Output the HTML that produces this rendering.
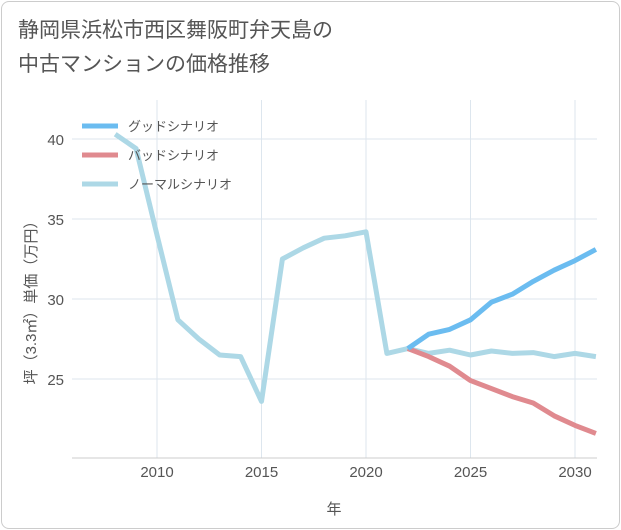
<!DOCTYPE html>
<html><head><meta charset="utf-8"><style>
body{margin:0;background:#fff;}
#wrap{position:relative;width:621px;height:530px;font-family:"Liberation Sans","Noto Sans CJK JP",sans-serif;}
#frame{position:absolute;left:1px;top:1px;width:617px;height:526px;border:1px solid #ccc;border-radius:8px;background:#fff;}
#title{position:absolute;left:18px;top:14px;font-size:21px;line-height:34px;color:#555;}
</style></head><body>
<div id="wrap">
<div id="frame"></div>
<div id="title">静岡県浜松市西区舞阪町弁天島の<br>中古マンションの価格推移</div>
<svg id="svg" width="621" height="530" style="position:absolute;left:0;top:0"></svg>
</div>
<script>
const years=[2008,2009,2010,2011,2012,2013,2014,2015,2016,2017,2018,2019,2020,2021,2022,2023,2024,2025,2026,2027,2028,2029,2030,2031];
const normalValues=[40.3,39.4,34,28.7,27.5,26.5,26.4,23.6,32.5,33.2,33.8,33.95,34.2,26.6,26.9,26.6,26.8,26.5,26.75,26.6,26.65,26.4,26.6,26.4];
const futureYears=[2022,2023,2024,2025,2026,2027,2028,2029,2030,2031];
const goodValues=[26.9,27.8,28.1,28.7,29.8,30.3,31.1,31.8,32.4,33.1];
const badValues=[26.9,26.4,25.8,24.9,24.4,23.9,23.5,22.7,22.1,21.6];
const xTicks=[2010,2015,2020,2025,2030];
const yTicks=[25,30,35,40];
const legendLabels=["グッドシナリオ","バッドシナリオ","ノーマルシナリオ"];
const L=72,R=597,T=100,B=458;
const xs=y=>157+(y-2010)*20.9;
const ys=v=>379-(v-25)*16;
const svg=document.getElementById('svg');const NS='http://www.w3.org/2000/svg';
function mk(t,a,p){const e=document.createElementNS(NS,t);for(const k in a)e.setAttribute(k,a[k]);(p||svg).appendChild(e);return e;}
const defs=mk('defs',{});const cp=mk('clipPath',{id:'c'},defs);mk('rect',{x:L,y:T,width:R-L,height:B-T},cp);
for(const t of xTicks){const g=mk('line',{x1:xs(t),x2:xs(t),y1:T,y2:B,stroke:'#dde6ee','stroke-width':1});

const tx=mk('text',{x:xs(t),y:477,'text-anchor':'middle','font-size':15,fill:'#555'});tx.textContent=t;
}
for(const t of yTicks){const g=mk('line',{x1:L,x2:R,y1:ys(t),y2:ys(t),stroke:'#dde6ee','stroke-width':1});

const tx=mk('text',{x:64,y:ys(t)+6,'text-anchor':'end','font-size':15,fill:'#555'});tx.textContent=t;
}
const ax=mk('line',{x1:L,x2:R,y1:B,y2:B,stroke:'#ccc'});
const xt=mk('text',{x:334,y:514,'text-anchor':'middle','font-size':15,fill:'#555'});xt.textContent='年';

const yt=mk('text',{x:0,y:0,'text-anchor':'middle','font-size':15,fill:'#555',transform:'translate(36,299) rotate(-90)'});yt.textContent='坪（3.3㎡）単価（万円）';

function line(xv,yv,col,name){const d=xv.map((x,i)=>(i?'L':'M')+xs(x)+','+ys(yv[i])).join('');
const p=mk('path',{d,fill:'none',stroke:col,'stroke-width':5,'stroke-linejoin':'round','clip-path':'url(#c)'});
}
line(years,normalValues,'#add8e6','normal-scenario-line');
line(futureYears,badValues,'#e08a8f','bad-scenario-line');
line(futureYears,goodValues,'#6bbcf0','good-scenario-line');
const lc=['#6bbcf0','#e08a8f','#add8e6'];
legendLabels.forEach((s,i)=>{const y=126+i*29;
const l=mk('line',{x1:82,x2:118,y1:y,y2:y,stroke:lc[i],'stroke-width':5});

const t=mk('text',{x:128,y:y+5,'font-size':13,fill:'#555'});t.textContent=s;
});
</script>
</body></html>
